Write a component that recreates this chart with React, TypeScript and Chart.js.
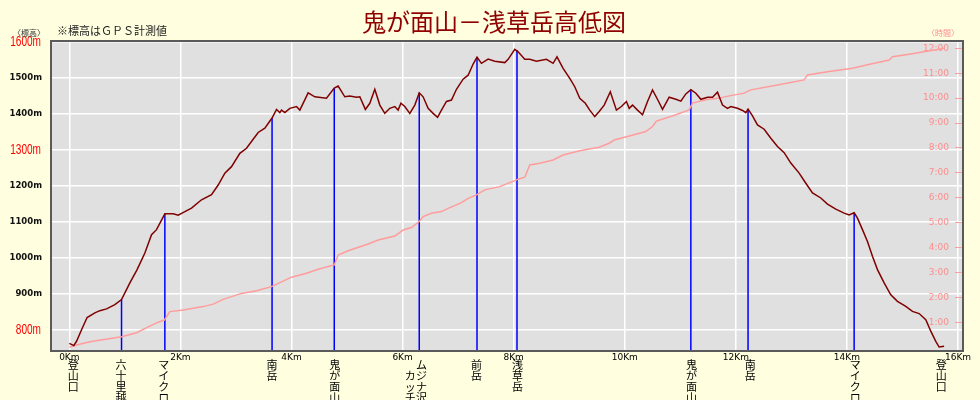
import React, { useEffect, useRef } from 'react';
import { Chart, registerables } from 'chart.js';

Chart.register(...registerables);

// Elevation profile (distance km, elevation m)
const profileKm = [
  0.0, 0.08, 0.13, 0.22, 0.32, 0.46, 0.55, 0.67, 0.82, 0.94, 1.09, 1.22, 1.36, 1.48, 1.57, 1.72, 1.87, 1.96,
  2.08, 2.2, 2.38, 2.56, 2.68, 2.8, 2.92, 3.07, 3.19, 3.31, 3.4, 3.52, 3.65, 3.73, 3.79, 3.82, 3.88, 3.97,
  4.09, 4.15, 4.3, 4.42, 4.63, 4.77, 4.84, 4.96, 5.05, 5.17, 5.23, 5.33, 5.41, 5.5, 5.59, 5.68, 5.77, 5.86,
  5.92, 5.97, 6.04, 6.13, 6.22, 6.3, 6.37, 6.46, 6.55, 6.63, 6.7, 6.79, 6.88, 6.97, 7.09, 7.18, 7.27, 7.34,
  7.42, 7.54, 7.66, 7.84, 7.9, 8.02, 8.08, 8.2, 8.29, 8.41, 8.59, 8.71, 8.78, 8.89, 9.01, 9.1, 9.19, 9.29,
  9.37, 9.46, 9.54, 9.63, 9.74, 9.85, 9.94, 10.03, 10.08, 10.14, 10.23, 10.32, 10.41, 10.5, 10.61, 10.68,
  10.8, 10.92, 11.01, 11.1, 11.19, 11.28, 11.37, 11.49, 11.58, 11.67, 11.76, 11.85, 11.91, 12.03, 12.12,
  12.18, 12.22, 12.3, 12.39, 12.51, 12.63, 12.75, 12.87, 12.99, 13.14, 13.26, 13.38, 13.53, 13.65, 13.8,
  13.95, 14.04, 14.13, 14.19, 14.28, 14.37, 14.46, 14.55, 14.67, 14.79, 14.91, 15.06, 15.18, 15.3, 15.42,
  15.51, 15.6, 15.66, 15.75,
];
const profileElev = [
  763, 757, 769, 801, 835, 848, 854, 859, 871, 885, 931, 968, 1014, 1065, 1079, 1123, 1123, 1119,
  1129, 1139, 1162, 1176, 1203, 1236, 1254, 1291, 1305, 1330, 1349, 1361, 1389, 1413, 1404, 1411, 1404, 1416,
  1421, 1411, 1459, 1448, 1444, 1472, 1478, 1448, 1450, 1447, 1448, 1413, 1430, 1469, 1425, 1402, 1416, 1421,
  1411, 1430, 1421, 1402, 1425, 1459, 1448, 1416, 1402, 1391, 1411, 1435, 1439, 1469, 1497, 1508, 1539, 1558,
  1541, 1553, 1547, 1543, 1552, 1580, 1573, 1552, 1552, 1547, 1552, 1541, 1559, 1527, 1499, 1476, 1444, 1430,
  1411, 1393, 1407, 1425, 1462, 1411, 1421, 1435, 1416, 1425, 1411, 1398, 1435, 1467, 1435, 1413,
  1447, 1441, 1436, 1456, 1468, 1458, 1441, 1447, 1447, 1461, 1425, 1416, 1421, 1416, 1410,
  1404, 1414, 1395, 1370, 1358, 1333, 1310, 1293, 1264, 1236, 1208, 1181, 1167, 1150, 1136,
  1125, 1120, 1126, 1111, 1079, 1046, 1005, 968, 931, 898, 880, 866, 852, 846, 829,
  797, 769, 753, 755,
];

// Elapsed time (distance km, hours)
const timeKm = [
  0.0, 0.13, 0.37, 0.94, 1.21, 1.45, 1.57, 1.71, 1.81, 2.05, 2.41, 2.59, 2.77, 3.1, 3.37, 3.64, 3.79, 4.0,
  4.27, 4.48, 4.77, 4.84, 5.02, 5.38, 5.56, 5.86, 6.01, 6.16, 6.3, 6.37, 6.52, 6.7, 6.82, 7.06, 7.18, 7.33,
  7.48, 7.75, 8.02, 8.08, 8.2, 8.29, 8.47, 8.71, 8.89, 9.19, 9.54, 9.72, 9.81, 10.08, 10.38, 10.5, 10.57,
  10.87, 11.16, 11.22, 11.46, 11.7, 11.88, 12.15, 12.27, 12.75, 13.23, 13.29, 13.65, 14.1, 14.43, 14.76,
  14.82, 15.15, 15.57, 15.75,
];
const timeHours = [
  0.01, 0.1, 0.23, 0.43, 0.59, 0.86, 0.99, 1.1, 1.44, 1.5, 1.64, 1.74, 1.93, 2.17, 2.28, 2.44, 2.6, 2.82,
  2.98, 3.14, 3.31, 3.71, 3.88, 4.15, 4.31, 4.47, 4.71, 4.81, 5.05, 5.25, 5.38, 5.45, 5.58, 5.81, 5.98, 6.12,
  6.32, 6.45, 6.69, 6.75, 6.83, 7.32, 7.39, 7.52, 7.72, 7.89, 8.03, 8.19, 8.32, 8.48, 8.66, 8.86, 9.08,
  9.29, 9.53, 9.8, 9.93, 10.0, 10.09, 10.2, 10.33, 10.53, 10.73, 10.93, 11.06, 11.2, 11.37, 11.53,
  11.66, 11.77, 11.93, 12.0,
];

// Waypoint marker lines
const markerKm = [0.94, 1.72, 3.65, 4.77, 6.3, 7.34, 8.06, 11.19, 12.22, 14.13];
const markerElev = [885, 1123, 1389, 1472, 1459, 1558, 1578, 1468, 1414, 1126];

// Waypoint labels (vertical text)
const labelKm = [0.07, 0.93, 1.7, 3.65, 4.78, 6.34, 6.14, 7.33, 8.07, 11.2, 12.26, 14.15, 15.7];
const labelText = ['登山口', '六十里越', 'マイクロ', '南岳', '鬼が面山', 'ムジナ沢', 'カッチ', '前岳', '浅草岳', '鬼が面山', '南岳', 'マイクロ', '登山口'];
const labelDrop = [0, 0, 0, 0, 0, 0, 1, 0, 0, 0, 0, 0, 0];

// Axis ticks
const kmTicks = [0, 2, 4, 6, 8, 10, 12, 14, 16];
const elevTicks = [800, 900, 1000, 1100, 1200, 1300, 1400, 1500, 1600];
const redElevTicks = [800, 1300, 1600];
const hourTicks = [1, 2, 3, 4, 5, 6, 7, 8, 9, 10, 11, 12];

const KM_MIN = -0.33;
const KM_MAX = 16.09;
const ELEV_MIN = 742;
const ELEV_MAX = 1603;
const H_MIN = -0.14;
const H_MAX = 12.29;

const JP = "'Noto Sans CJK JP', sans-serif";

const decor = {
  id: 'decor',
  beforeDraw(chart: any) {
    const { ctx, chartArea: a } = chart;
    ctx.save();
    ctx.fillStyle = '#ffffe0';
    ctx.fillRect(0, 0, chart.width, chart.height);
    ctx.fillStyle = '#e0e0e0';
    ctx.fillRect(a.left, a.top, a.right - a.left, a.bottom - a.top);
    ctx.restore();
  },
  afterDraw(chart: any) {
    const { ctx, chartArea: a } = chart;
    const xs = chart.scales.x;
    const ys = chart.scales.y;
    ctx.save();
    ctx.strokeStyle = '#5a5a5a';
    ctx.lineWidth = 2;
    ctx.strokeRect(a.left, a.top, a.right - a.left, a.bottom - a.top);
    // highlighted (narrow red) elevation tick labels
    ctx.fillStyle = '#ff0000';
    ctx.font = "14px 'Liberation Sans', sans-serif";
    ctx.textAlign = 'right';
    ctx.textBaseline = 'middle';
    redElevTicks.forEach((v) => {
      ctx.save();
      ctx.translate(a.left - 10, ys.getPixelForValue(v) + 0.5);
      ctx.scale(0.72, 1);
      ctx.fillText(`${v}m`, 0, 0);
      ctx.restore();
    });
    ctx.fillStyle = '#900000';
    ctx.font = `24px ${JP}`;
    ctx.textAlign = 'center';
    ctx.textBaseline = 'middle';
    ctx.fillText('鬼が面山－浅草岳高低図', 494, 22);
    ctx.fillStyle = '#222';
    ctx.font = `11px ${JP}`;
    ctx.textAlign = 'left';
    ctx.fillText('※標高はＧＰＳ計測値', 57, 31);
    ctx.font = `8px ${JP}`;
    ctx.textAlign = 'center';
    ctx.fillStyle = '#333';
    ctx.fillText('〈標高〉', 29, 33);
    ctx.fillStyle = '#ff8c8c';
    ctx.fillText('〈時間〉', 943, 33);
    ctx.fillStyle = '#000';
    ctx.font = `11px ${JP}`;
    ctx.textBaseline = 'top';
    labelText.forEach((t, i) => {
      const x = xs.getPixelForValue(labelKm[i]);
      Array.from(t).forEach((ch, j) => {
        ctx.fillText(ch, x, 359 + (j + labelDrop[i]) * 11);
      });
    });
    ctx.restore();
  },
};

export default function App() {
  const ref = useRef<HTMLCanvasElement>(null);
  useEffect(() => {
    document.body.style.margin = '0';
    const markerSets = markerKm.map((k, i) => ({
      type: 'line' as const,
      data: [
        { x: k, y: markerElev[i] },
        { x: k, y: ELEV_MIN },
      ],
      borderColor: '#0000ff',
      borderWidth: 1.5,
      pointRadius: 0,
      yAxisID: 'y',
    }));
    const chart = new Chart(ref.current!, {
      type: 'line',
      data: {
        datasets: [
          {
            data: profileKm.map((k, i) => ({ x: k, y: profileElev[i] })),
            borderColor: '#800000',
            borderWidth: 1.5,
            pointRadius: 0,
            yAxisID: 'y',
          },
          {
            data: timeKm.map((k, i) => ({ x: k, y: timeHours[i] })),
            borderColor: '#ff9c9c',
            borderWidth: 1.5,
            pointRadius: 0,
            yAxisID: 'y1',
          },
          ...markerSets,
        ] as any,
      },
      options: {
        responsive: false,
        devicePixelRatio: 1,
        animation: false,
        layout: { padding: { top: 41, left: 0, right: 0, bottom: 0 } },
        plugins: { legend: { display: false }, tooltip: { enabled: false } },
        elements: { line: { tension: 0 } },
        scales: {
          x: {
            type: 'linear',
            min: KM_MIN,
            max: KM_MAX,
            afterBuildTicks: (s: any) => {
              s.ticks = kmTicks.map((v) => ({ value: v }));
            },
            afterFit: (s: any) => {
              s.height = 49;
            },
            grid: { color: '#ffffff', lineWidth: 1.5, drawTicks: false },
            border: { display: false },
            ticks: {
              autoSkip: false,
              maxRotation: 0,
              padding: 1,
              color: '#000',
              font: { family: 'DejaVu Sans', size: 9 },
              callback: (v: any) => `${v}Km`,
            },
          },
          y: {
            type: 'linear',
            position: 'left',
            min: ELEV_MIN,
            max: ELEV_MAX,
            afterBuildTicks: (s: any) => {
              s.ticks = elevTicks.map((v) => ({ value: v }));
            },
            afterFit: (s: any) => {
              s.width = 51;
            },
            grid: { color: '#ffffff', lineWidth: 1.5, drawTicks: false },
            border: { display: false },
            ticks: {
              autoSkip: false,
              padding: 9,
              color: '#111',
              font: { family: 'DejaVu Sans', size: 8.5, weight: 'bold' },
              callback: (v: any) => (redElevTicks.includes(v) ? '' : `${v}m`),
            },
          },
          y1: {
            type: 'linear',
            position: 'right',
            min: H_MIN,
            max: H_MAX,
            afterBuildTicks: (s: any) => {
              s.ticks = hourTicks.map((v) => ({ value: v }));
            },
            afterFit: (s: any) => {
              s.width = 17;
            },
            grid: { drawOnChartArea: false, drawTicks: true, tickLength: -8, color: '#ff9c9c', lineWidth: 1 },
            border: { display: false },
            ticks: {
              autoSkip: false,
              mirror: true,
              padding: -14,
              color: '#ff8c8c',
              font: { family: 'DejaVu Sans', size: 9 },
              callback: (v: any) => `${v}:00`,
            },
          },
        },
      },
      plugins: [decor],
    });
    return () => chart.destroy();
  }, []);
  return <canvas ref={ref} width={980} height={400} style={{ display: 'block' }} />;
}
